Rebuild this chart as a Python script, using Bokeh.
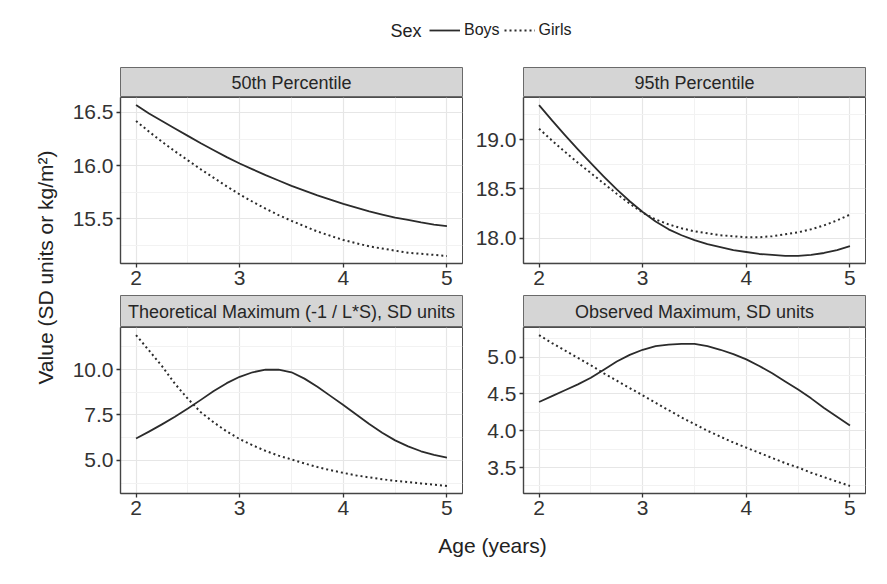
from bokeh.plotting import figure
from bokeh.models import Range1d, FixedTicker, Label, Legend, LegendItem
from bokeh.layouts import column, row
from bokeh.embed import file_html
from bokeh.resources import INLINE

# ---------------- data ----------------
age = [2.0, 2.125, 2.25, 2.375, 2.5, 2.625, 2.75, 2.875, 3.0, 3.125, 3.25, 3.375, 3.5,
       3.625, 3.75, 3.875, 4.0, 4.125, 4.25, 4.375, 4.5, 4.625, 4.75, 4.875, 5.0]

p50_boys = [16.57, 16.49, 16.42, 16.35, 16.28, 16.21, 16.145, 16.08, 16.02, 15.965, 15.91, 15.86, 15.81,
            15.765, 15.72, 15.68, 15.64, 15.605, 15.57, 15.54, 15.51, 15.49, 15.465, 15.445, 15.43]
p50_girls = [16.42, 16.32, 16.225, 16.135, 16.05, 15.965, 15.885, 15.805, 15.73, 15.66, 15.595, 15.535, 15.48,
             15.43, 15.38, 15.34, 15.30, 15.27, 15.24, 15.22, 15.20, 15.18, 15.17, 15.16, 15.15]

p95_boys = [19.35, 19.195, 19.045, 18.90, 18.76, 18.625, 18.495, 18.375, 18.265, 18.17, 18.09, 18.03, 17.98,
            17.94, 17.91, 17.88, 17.86, 17.84, 17.83, 17.82, 17.82, 17.83, 17.85, 17.88, 17.92]
p95_girls = [19.11, 18.99, 18.875, 18.765, 18.66, 18.555, 18.45, 18.35, 18.26, 18.19, 18.14, 18.10, 18.07,
             18.05, 18.03, 18.02, 18.01, 18.01, 18.02, 18.04, 18.06, 18.09, 18.13, 18.18, 18.24]

theo_boys = [6.20, 6.58, 6.98, 7.40, 7.85, 8.33, 8.82, 9.25, 9.60, 9.85, 9.99, 10.00, 9.85,
             9.50, 9.05, 8.55, 8.05, 7.52, 7.00, 6.52, 6.10, 5.77, 5.50, 5.30, 5.15]
theo_girls = [11.90, 11.05, 10.19, 9.22, 8.39, 7.65, 7.09, 6.59, 6.17, 5.83, 5.52, 5.26, 5.05,
              4.83, 4.63, 4.46, 4.31, 4.17, 4.06, 3.96, 3.87, 3.80, 3.73, 3.66, 3.59]

obs_boys = [4.39, 4.47, 4.55, 4.63, 4.72, 4.83, 4.94, 5.03, 5.10, 5.15, 5.17, 5.18, 5.18,
            5.15, 5.10, 5.04, 4.97, 4.88, 4.78, 4.67, 4.56, 4.44, 4.31, 4.19, 4.07]
obs_girls = [5.30, 5.19, 5.09, 4.99, 4.89, 4.78, 4.68, 4.58, 4.48, 4.38, 4.28, 4.18, 4.09,
             4.00, 3.92, 3.84, 3.77, 3.70, 3.63, 3.56, 3.50, 3.43, 3.37, 3.31, 3.25]

panel_titles = ["50th Percentile", "95th Percentile",
                "Theoretical Maximum (-1 / L*S), SD units", "Observed Maximum, SD units"]

x_ticks = [2, 3, 4, 5]
x_labels = ["2", "3", "4", "5"]
x_minor = [2.5, 3.5, 4.5]

p50_yticks = [15.5, 16.0, 16.5]
p50_ylabels = ["15.5", "16.0", "16.5"]
p50_yminor = [15.25, 15.75, 16.25]

p95_yticks = [18.0, 18.5, 19.0]
p95_ylabels = ["18.0", "18.5", "19.0"]
p95_yminor = [17.75, 18.25, 18.75, 19.25]

theo_yticks = [5.0, 7.5, 10.0]
theo_ylabels = ["5.0", "7.5", "10.0"]
theo_yminor = [3.75, 6.25, 8.75, 11.25]

obs_yticks = [3.5, 4.0, 4.5, 5.0]
obs_ylabels = ["3.5", "4.0", "4.5", "5.0"]
obs_yminor = [3.25, 3.75, 4.25, 4.75, 5.25]

legend_title = "Sex"
legend_labels = ["Boys", "Girls"]
x_title = "Age (years)"
y_title = "Value (SD units or kg/m²)"

# ---------------- style ----------------
FONT = "Liberation Sans"
LINE = "#2b2b2b"
STRIP_FILL = "#d5d5d5"
FRAME = "#4d4d4d"
SOLID_W = 1.8
DOT_W = 2.0
DOT = "2 3"


def blank(w, h):
    f = figure(width=w, height=h, x_range=Range1d(0, w), y_range=Range1d(0, h),
               x_axis_type=None, y_axis_type=None, output_backend="svg",
               toolbar_location=None, min_border=0)
    f.outline_line_color = None
    return f


def make_strip(text, w, h, ml, mr):
    s = figure(width=w, height=h, x_range=Range1d(0, 1), y_range=Range1d(0, 1),
               x_axis_type=None, y_axis_type=None, output_backend="svg",
               toolbar_location=None, min_border_left=ml, min_border_right=mr,
               min_border_top=0, min_border_bottom=0)
    s.background_fill_color = STRIP_FILL
    s.border_fill_color = "white"
    s.outline_line_color = "#6a6a6a"
    s.outline_line_width = 1
    s.add_layout(Label(x=0.5, y=0.5, text=text, text_align="center",
                       text_baseline="middle", text_font=FONT,
                       text_font_size="18px", text_color="#262626"))
    return s


def make_panel(boys, girls, yticks, ylabels, yminor, w, h, ml, mr, mb):
    vals = boys + girls
    lo, hi = min(vals), max(vals)
    pad = (hi - lo) * 0.05
    xpad = (max(age) - min(age)) * 0.05
    p = figure(width=w, height=h,
               x_range=Range1d(min(age) - xpad, max(age) + xpad),
               y_range=Range1d(lo - pad, hi + pad),
               output_backend="svg", toolbar_location=None,
               min_border_left=ml, min_border_right=mr,
               min_border_top=0, min_border_bottom=mb)
    p.background_fill_color = "white"
    p.border_fill_color = "white"
    p.outline_line_color = FRAME
    p.outline_line_width = 1

    p.line(age, boys, line_color=LINE, line_width=SOLID_W, line_join="round")
    p.line(age, girls, line_color=LINE, line_width=DOT_W, line_dash=DOT)

    p.xaxis.ticker = FixedTicker(ticks=x_ticks)
    p.xaxis.major_label_overrides = dict(zip(x_ticks, x_labels))
    p.yaxis.ticker = FixedTicker(ticks=yticks)
    p.yaxis.major_label_overrides = dict(zip(yticks, ylabels))
    for ax in (p.xaxis[0], p.yaxis[0]):
        ax.major_tick_out = 4
        ax.major_tick_in = 0
        ax.minor_tick_line_color = None
        ax.major_tick_line_color = "#333333"
        ax.major_tick_line_width = 1.3
        ax.axis_line_color = "#444444"
        ax.axis_line_width = 1.4
        ax.major_label_text_font = FONT
        ax.major_label_text_font_size = "21px"
        ax.major_label_text_color = "#333333"
        ax.major_label_standoff = 3

    p.xgrid.ticker = FixedTicker(ticks=x_ticks, minor_ticks=x_minor)
    p.ygrid.ticker = FixedTicker(ticks=yticks, minor_ticks=yminor)
    for g in (p.xgrid[0], p.ygrid[0]):
        g.grid_line_color = "#e6e6e6"
        g.grid_line_width = 1.2
        g.minor_grid_line_color = "#f2f2f2"
        g.minor_grid_line_width = 1
    return p


# left column (x 60..467) / right column (x 467..887)
WL, MLL, MRL = 407, 60, 5
WR, MLR, MRR = 420, 56, 22

s1 = make_strip(panel_titles[0], WL, 30, MLL, MRL)
p1 = make_panel(p50_boys, p50_girls, p50_yticks, p50_ylabels, p50_yminor, WL, 198, MLL, MRL, 32)
s2 = make_strip(panel_titles[1], WR, 30, MLR, MRR)
p2 = make_panel(p95_boys, p95_girls, p95_yticks, p95_ylabels, p95_yminor, WR, 198, MLR, MRR, 32)
s3 = make_strip(panel_titles[2], WL, 32, MLL, MRL)
p3 = make_panel(theo_boys, theo_girls, theo_yticks, theo_ylabels, theo_yminor, WL, 201, MLL, MRL, 35)
s4 = make_strip(panel_titles[3], WR, 32, MLR, MRR)
p4 = make_panel(obs_boys, obs_girls, obs_yticks, obs_ylabels, obs_yminor, WR, 201, MLR, MRR, 35)

# legend strip on top (proxy renderers are hidden; only their legend keys show)
leg = blank(887, 67)
rb = leg.line(age, p50_boys, line_color=LINE, line_width=SOLID_W, visible=False)
rg = leg.line(age, p50_girls, line_color=LINE, line_width=DOT_W, line_dash=DOT, visible=False)
leg.add_layout(Label(x=390, y=37, text=legend_title, text_align="left",
                     text_baseline="middle", text_font=FONT,
                     text_font_size="18px", text_color="#222222"))
legend = Legend(items=[LegendItem(label=legend_labels[0], renderers=[rb]),
                       LegendItem(label=legend_labels[1], renderers=[rg])],
                orientation="horizontal", location=(429, 27),
                glyph_width=31, glyph_height=20, label_height=20,
                label_standoff=4, spacing=4, padding=0, margin=0,
                border_line_color=None, background_fill_alpha=0,
                inactive_fill_alpha=0,
                label_text_font=FONT, label_text_font_size="16px",
                label_text_color="#222222")
leg.add_layout(legend, "center")

# y-axis title
ytf = blank(60, 461)
ytf.add_layout(Label(x=45, y=261, text=y_title, angle=90, angle_units="deg",
                     text_align="center", text_baseline="middle",
                     text_font=FONT, text_font_size="21px", text_color="#222222"))

# x-axis title
xtf = blank(887, 56)
xtf.add_layout(Label(x=492, y=39, text=x_title, text_align="center",
                     text_baseline="middle", text_font=FONT,
                     text_font_size="21px", text_color="#222222"))

grid = column(row(column(s1, p1), column(s2, p2)),
              row(column(s3, p3), column(s4, p4)))
layout = column(leg, row(ytf, grid), xtf)

open("out.html", "w").write(file_html(layout, INLINE))
